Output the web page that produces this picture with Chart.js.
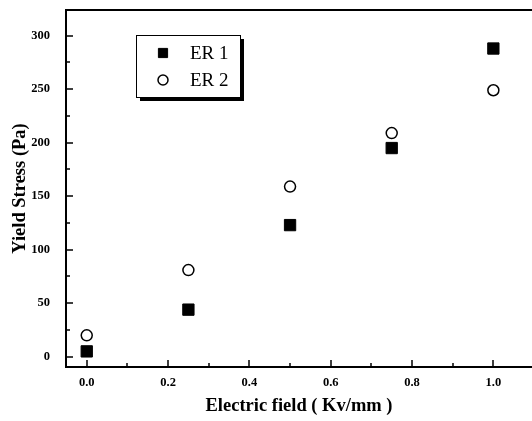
<!DOCTYPE html>
<html>
<head>
<meta charset="utf-8">
<script src="https://cdn.jsdelivr.net/npm/chart.js@4.4.1/dist/chart.umd.min.js"></script>
<style>
  html, body { margin: 0; padding: 0; background: #fff; overflow: hidden; }
  canvas { display: block; }
</style>
</head>
<body>
<canvas id="chart" width="532" height="421"></canvas>
<script>
'use strict'

// ---------------------------------------------
// DONNEES : seuil d'ecoulement vs champ electrique
// ---------------------------------------------
const fieldValues = [0, 0.25, 0.5, 0.75, 1.0] ;
const er1Values   = [5, 44, 123, 195, 288] ;
const er2Values   = [20, 81, 159, 209, 249] ;
const seriesNames = ['ER 1', 'ER 2'] ;

const xTicks      = [0, 0.2, 0.4, 0.6, 0.8, 1.0] ;
const xMinorTicks = [0.1, 0.3, 0.5, 0.7, 0.9] ;
const yTicks      = [0, 50, 100, 150, 200, 250, 300] ;
const yMinorTicks = [25, 75, 125, 175, 225, 275] ;

const SERIF = "'Liberation Serif', 'Times New Roman', serif" ;


// ---------------------------------------------
// CADRE + GRADUATIONS INTERIEURES
// ---------------------------------------------
const framePlugin = {
    id: 'frame',
    afterDraw(chart) {
        const { ctx, chartArea: a, scales: { x, y } } = chart ;
        ctx.save() ;
        ctx.strokeStyle = '#000' ;
        ctx.lineWidth = 2 ;
        ctx.beginPath() ;
        ctx.moveTo(chart.width, a.top) ;
        ctx.lineTo(a.left, a.top) ;
        ctx.lineTo(a.left, a.bottom) ;
        ctx.lineTo(chart.width, a.bottom) ;
        ctx.stroke() ;

        ctx.lineWidth = 1.5 ;
        ctx.beginPath() ;
        const tickX = (v, len) => {
            const px = Math.round(x.getPixelForValue(v)) ;
            ctx.moveTo(px, a.bottom) ;
            ctx.lineTo(px, a.bottom - len) ;
        } ;
        const tickY = (v, len) => {
            const py = Math.round(y.getPixelForValue(v)) ;
            ctx.moveTo(a.left, py) ;
            ctx.lineTo(a.left + len, py) ;
        } ;
        xTicks.forEach(v => tickX(v, 7)) ;
        xMinorTicks.forEach(v => tickX(v, 4)) ;
        yTicks.forEach(v => tickY(v, 7)) ;
        yMinorTicks.forEach(v => tickY(v, 4)) ;
        ctx.stroke() ;
        ctx.restore() ;
    }
} ;


// ---------------------------------------------
// LEGENDE ENCADREE AVEC OMBRE
// ---------------------------------------------
const boxLegendPlugin = {
    id: 'boxLegend',
    afterDraw(chart, args, opts) {
        const { ctx } = chart ;
        const { left, top, width, height, shadow } = opts ;
        ctx.save() ;
        ctx.fillStyle = '#000' ;
        ctx.fillRect(left + shadow, top + shadow, width, height) ;
        ctx.fillStyle = '#fff' ;
        ctx.fillRect(left, top, width, height) ;
        ctx.strokeStyle = '#000' ;
        ctx.lineWidth = 1 ;
        ctx.strokeRect(left + 0.5, top + 0.5, width, height) ;

        ctx.font = `19px ${SERIF}` ;
        ctx.textBaseline = 'middle' ;
        chart.data.datasets.forEach((ds, i) => {
            const cy = top + 18 + i * 27 ;
            ctx.strokeStyle = '#000' ;
            ctx.lineWidth = ds.borderWidth ;
            ctx.fillStyle = ds.backgroundColor ;
            Chart.helpers.drawPoint(ctx, {
                pointStyle: ds.pointStyle,
                radius: i === 0 ? 6.5 : 5,
                borderWidth: ds.borderWidth,
            }, left + 27, cy) ;
            ctx.fillStyle = '#000' ;
            ctx.fillText(ds.label, left + 54, cy + 1) ;
        }) ;
        ctx.restore() ;
    }
} ;


new Chart(document.getElementById('chart'), {
    type: 'scatter',
    data: {
        datasets: [{
            label: seriesNames[0],
            data: fieldValues.map((f, i) => ({ x: f, y: er1Values[i] })),
            pointStyle: 'rect',
            pointRadius: 8,
            backgroundColor: '#000',
            borderColor: '#000',
            borderWidth: 1,
        }, {
            label: seriesNames[1],
            data: fieldValues.map((f, i) => ({ x: f, y: er2Values[i] })),
            pointStyle: 'circle',
            pointRadius: 5.5,
            backgroundColor: '#fff',
            borderColor: '#000',
            borderWidth: 1.5,
        }]
    },
    options: {
        responsive: false,
        animation: false,
        layout: { autoPadding: false, padding: { top: 10, right: 0, left: 0, bottom: 0 } },
        plugins: {
            legend: { display: false },
            tooltip: { enabled: false },
            boxLegend: { left: 136, top: 35, width: 104, height: 62, shadow: 4 },
        },
        scales: {
            x: {
                type: 'linear',
                min: -0.051,
                max: 1.095,
                afterBuildTicks: s => { s.ticks = xTicks.map(v => ({ value: v })) ; },
                afterFit: s => { s.height = 54 ; s.paddingLeft = 0 ; s.paddingRight = 0 ; },
                grid: { display: false, drawTicks: false },
                border: { display: false },
                ticks: {
                    padding: 8,
                    color: '#000',
                    font: { size: 12.5, weight: 'bold', family: SERIF },
                    callback: v => v.toFixed(1),
                },
                title: {
                    display: true,
                    text: 'Electric field ( Kv/mm )',
                    color: '#000',
                    font: { size: 18.5, weight: 'bold', family: SERIF },
                    padding: { top: 10 },
                },
            },
            y: {
                type: 'linear',
                min: -9.6,
                max: 324,
                afterBuildTicks: s => { s.ticks = yTicks.map(v => ({ value: v })) ; },
                afterFit: s => { s.width = 66 ; s.paddingTop = 0 ; s.paddingBottom = 0 ; },
                grid: { display: false, drawTicks: false },
                border: { display: false },
                ticks: {
                    padding: 16,
                    color: '#000',
                    font: { size: 12.5, weight: 'bold', family: SERIF },
                },
                title: {
                    display: true,
                    text: 'Yield Stress (Pa)',
                    color: '#000',
                    font: { size: 18.5, weight: 'bold', family: SERIF },
                    padding: { top: 9, bottom: 4 },
                },
            }
        }
    },
    plugins: [framePlugin, boxLegendPlugin]
}) ;
</script>
</body>
</html>
